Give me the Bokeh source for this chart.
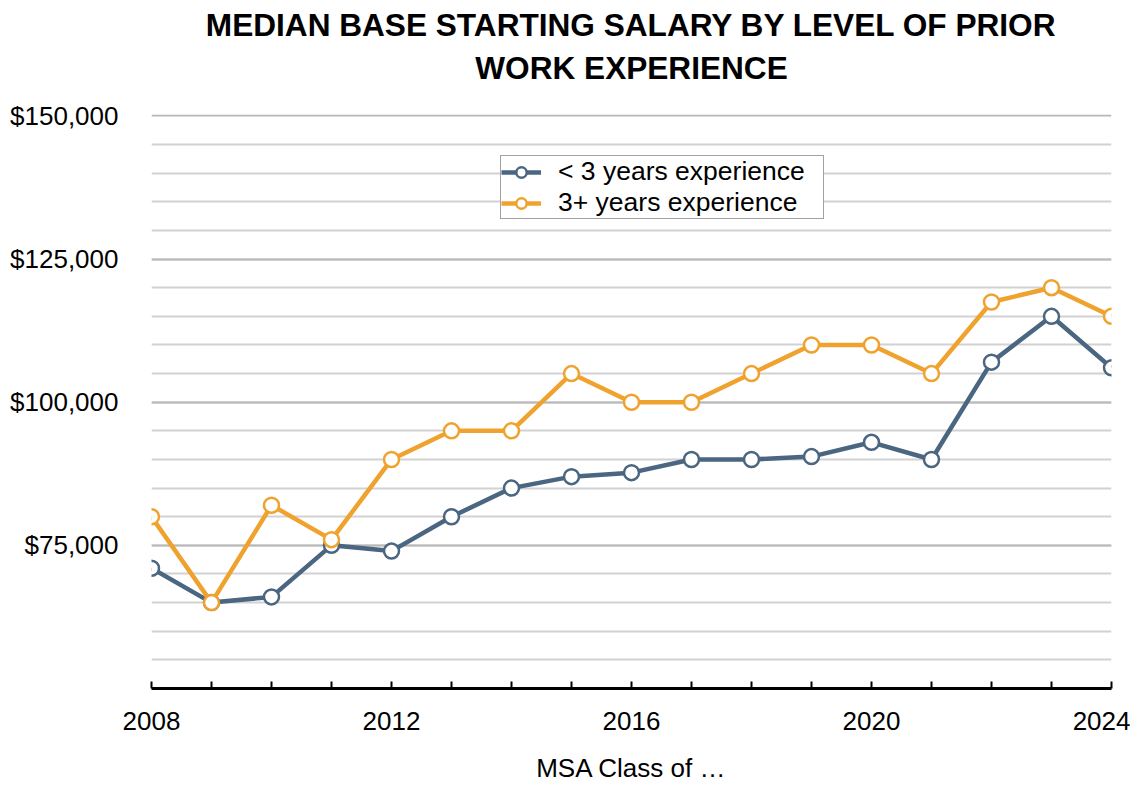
from bokeh.plotting import figure
from bokeh.models import FixedTicker, Legend, LegendItem, LinearAxis, NumeralTickFormatter, Range1d, Title
from bokeh.embed import file_html
from bokeh.resources import INLINE

years = list(range(2008, 2025))
under3 = [71000, 65000, 66000, 75000, 74000, 80000, 85000, 87000, 87700, 90000, 90000, 90500, 93000, 90000, 107000, 115000, 106000]
over3 = [80000, 65000, 82000, 76000, 90000, 95000, 95000, 105000, 100000, 100000, 105000, 110000, 110000, 105000, 117500, 120000, 115000]
series_names = ["< 3 years experience", "3+ years experience"]
title_lines = ["MEDIAN BASE STARTING SALARY BY LEVEL OF PRIOR", "WORK EXPERIENCE"]
y_major = [75000, 100000, 125000, 150000]
y_minor = list(range(55000, 150000, 5000))
x_labeled = [2008, 2012, 2016, 2020, 2024]

BLUE = "#4a6681"
ORANGE = "#f0a22e"
FONT = "Liberation Sans"
FS = "26px"
TFS = "31.6px"

p = figure(width=1130, height=785, output_backend="svg", toolbar_location=None,
           x_range=Range1d(2008, 2024), y_range=Range1d(50000, 150250),
           min_border_left=151, min_border_right=19, min_border_top=114, min_border_bottom=90)
p.outline_line_color = None
p.background_fill_color = "white"
p.border_fill_color = "white"

# bottom axis
xa = p.below[0]
xa.ticker = FixedTicker(ticks=years)
xa.major_label_overrides = {y: (str(y) if y in x_labeled else "") for y in years}
xa.major_tick_in = 7
xa.major_tick_out = 0
xa.minor_tick_in = 0
xa.minor_tick_out = 0
xa.axis_line_width = 3
xa.axis_line_color = "black"
xa.major_tick_line_width = 2
xa.major_tick_line_color = "black"
xa.major_label_text_font = FONT
xa.major_label_text_font_size = FS
xa.major_label_text_color = "black"
xa.major_label_standoff = 23
xa.axis_label = "MSA Class of \u2026"
xa.axis_label_text_font = FONT
xa.axis_label_text_font_size = FS
xa.axis_label_text_font_style = "normal"
xa.axis_label_text_color = "black"
xa.axis_label_standoff = 20

# second title line, carried by a tick-less axis above the plot
top = LinearAxis(ticker=FixedTicker(ticks=[]), axis_label=title_lines[1],
                 axis_line_color=None, major_tick_line_color=None, minor_tick_line_color=None,
                 major_tick_in=0, major_tick_out=0, minor_tick_in=0, minor_tick_out=0,
                 major_label_standoff=0, axis_label_standoff=29,
                 axis_label_text_font=FONT, axis_label_text_font_style="bold",
                 axis_label_text_font_size=TFS, axis_label_text_color="black")
p.add_layout(top, "above")

# first title line
t1 = Title(text=title_lines[0], align="center", text_font=FONT, text_font_style="bold",
           text_font_size=TFS, text_color="black", standoff=8, offset=0)
p.add_layout(t1, "above")

ya = p.yaxis[0]
ya.ticker = FixedTicker(ticks=y_major, minor_ticks=y_minor)
ya.formatter = NumeralTickFormatter(format="$0,0")
ya.axis_line_color = None
ya.major_tick_line_color = None
ya.minor_tick_line_color = None
ya.major_label_text_font = FONT
ya.major_label_text_font_size = FS
ya.major_label_text_color = "black"
ya.major_label_standoff = 27

p.xgrid.grid_line_color = None
p.ygrid.grid_line_color = "#b8b8b8"
p.ygrid.grid_line_width = 2
p.ygrid.minor_grid_line_color = "#d2d2d2"
p.ygrid.minor_grid_line_width = 2

l1 = p.line(years, under3, line_color=BLUE, line_width=4.5)
s1 = p.scatter(years, under3, size=15, fill_color="white", line_color=BLUE, line_width=2.5)
l2 = p.line(years, over3, line_color=ORANGE, line_width=4.5)
s2 = p.scatter(years, over3, size=15, fill_color="white", line_color=ORANGE, line_width=2.5)

legend = Legend(items=[LegendItem(label=series_names[0], renderers=[l1, s1]),
                       LegendItem(label=series_names[1], renderers=[l2, s2])],
                location=(349, 469))
legend.label_text_font = FONT
legend.label_text_font_size = "26.5px"
legend.label_text_color = "black"
legend.border_line_color = "#444444"
legend.border_line_width = 1
legend.background_fill_alpha = 1
legend.padding = 0
legend.margin = 0
legend.spacing = 0
legend.glyph_width = 40
legend.glyph_height = 26
legend.label_height = 26
legend.label_width = 265
legend.label_standoff = 17
legend.label_text_line_height = 1.0
p.add_layout(legend, "center")

open("out.html", "w").write(file_html(p, INLINE))
